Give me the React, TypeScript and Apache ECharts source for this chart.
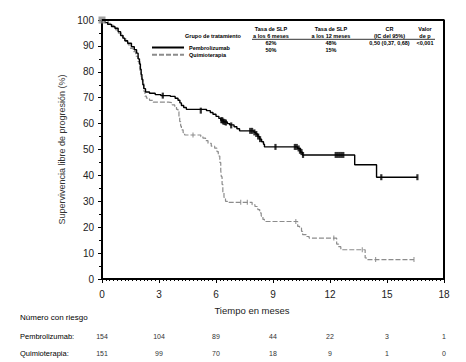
import React, { useEffect, useRef } from "react";
import * as echarts from "echarts";

// Kaplan-Meier curves: [month, % progression-free]
const pembroKM: [number, number][] = [
  [0, 100], [0.15, 99], [0.3, 98.3], [0.5, 97.5], [0.68, 96.8], [0.85, 95.5], [0.98, 94],
  [1.1, 93], [1.2, 92], [1.35, 91], [1.55, 89.7], [1.7, 88.5], [1.82, 87.2], [1.9, 85],
  [1.97, 83], [2.02, 81], [2.06, 79], [2.1, 77], [2.15, 75], [2.2, 73.5], [2.29, 72.2],
  [2.5, 71.7], [2.8, 71.2], [3.1, 70.8], [3.6, 70.5], [3.85, 69.8], [4.0, 69], [4.1, 68],
  [4.18, 67], [4.3, 66.2], [4.44, 65.5], [5.5, 65], [5.7, 64.3], [5.84, 63.6], [6.0, 62.8],
  [6.15, 62], [6.25, 61.3], [6.4, 60.6], [6.6, 60], [6.72, 59.5], [6.95, 58.8], [7.1, 58],
  [7.24, 57.2], [8.0, 56.6], [8.1, 56], [8.2, 55], [8.29, 54], [8.4, 53], [8.5, 52],
  [8.55, 51], [10.3, 50.4], [10.45, 49], [10.55, 47.9], [13.3, 44.1], [14.45, 39.3], [16.6, 39.3],
];
const chemoKM: [number, number][] = [
  [0, 100], [0.2, 99.4], [0.33, 98.7], [0.45, 98], [0.59, 97.4], [0.72, 96.2], [0.86, 94.9],
  [1.0, 94], [1.12, 93], [1.25, 91.7], [1.38, 90.4], [1.5, 89], [1.64, 87.8], [1.77, 86],
  [1.9, 83.9], [2.0, 80.5], [2.06, 78], [2.13, 76], [2.2, 72.5], [2.26, 70.6], [2.34, 69.8],
  [2.5, 69], [2.69, 68.3], [3.5, 68.1], [3.7, 67.2], [3.83, 66.5], [3.92, 65.5], [4.0, 64.6],
  [4.05, 62.5], [4.09, 60.8], [4.14, 59], [4.18, 57.6], [4.27, 56.5], [4.35, 55.6], [5.2, 55],
  [5.31, 54.4], [5.45, 53.4], [5.58, 52.4], [5.75, 51.3], [5.93, 50.5], [6.05, 49.2],
  [6.12, 47.5], [6.2, 45], [6.25, 42], [6.28, 39.5], [6.32, 36.5], [6.36, 33.5], [6.42, 31.5],
  [6.5, 30], [6.6, 29.6], [7.9, 28.7], [8.05, 28], [8.2, 26.8], [8.3, 25.5], [8.38, 24.3],
  [8.47, 23], [8.55, 22.2], [10.3, 20.3], [10.4, 19.7], [10.5, 18.4], [10.56, 17.1],
  [10.75, 16.4], [10.9, 15.8], [12.35, 13.5], [12.45, 12.5], [12.57, 11.3], [13.85, 8.1],
  [13.95, 7.5], [16.42, 7.5],
];
// Censored observations
const pembroCensor: [number, number][] = [
  [3.2, 70.8], [5.2, 65], [6.28, 61.3], [6.33, 61.3], [6.38, 60.8], [6.45, 60.6], [6.52, 60.4],
  [6.8, 59.3], [7.8, 57.2], [7.9, 57.2], [8.02, 56.6], [8.12, 56], [8.22, 55], [8.32, 54],
  [9.13, 51], [10.15, 51], [10.25, 51], [10.35, 50.4], [10.42, 49.5], [10.5, 49], [10.58, 47.9],
  [12.3, 47.9], [12.4, 47.9], [12.5, 47.9], [12.6, 47.9], [12.7, 47.9], [14.7, 39.3], [16.6, 39.3],
];
const chemoCensor: [number, number][] = [
  [4.79, 55.6], [7.3, 29.6], [7.65, 29.6], [10.2, 22.2], [12.2, 15.8], [13.7, 11.3], [14.4, 7.5],
  [16.42, 7.5],
];

const xTicks = [0, 3, 6, 9, 12, 15, 18];
const riskPembro = [154, 104, 89, 44, 22, 3, 1];
const riskChemo = [151, 99, 70, 18, 9, 1, 0];

const groupNames = ["Pembrolizumab", "Quimioterapia"];
const tableHeaderTop = ["Tasa de SLP", "Tasa de SLP", "CR", "Valor"];
const tableHeaderBottom = ["a los 6 meses", "a los 12 meses", "(IC del 95%)", "de p"];
const tableRowPembro = ["62%", "48%", "0,50 (0,37, 0,68)", "<0,001"];
const tableRowChemo = ["50%", "15%", "", ""];

const X_MAX = 18;
const Y_MAX = 100;
// frame corners (top-left, top-right, bottom-right) in data units
const frameCorners: [number, number][] = [[0, Y_MAX], [X_MAX, Y_MAX], [X_MAX, 0]];

const FONT = "'Liberation Sans', Arial, sans-serif";

export default function App() {
  const ref = useRef<HTMLDivElement>(null);
  useEffect(() => {
    if (!ref.current) return;
    const chart = echarts.init(ref.current, null, { renderer: "svg" });
    const option: any = {
      animation: false,
      backgroundColor: "#fff",
      textStyle: { fontFamily: FONT },
      grid: { left: 102, right: 22, top: 20, bottom: 83 },
      legend: {
        data: groupNames,
        orient: "vertical",
        left: 146, top: 39.5,
        itemWidth: 32, itemHeight: 6, itemGap: 1.3,
        itemStyle: { opacity: 0 },
        textStyle: { fontSize: 5.5, fontWeight: "bold", color: "#000", fontFamily: FONT, lineHeight: 6 },
        selectedMode: false,
      },
      xAxis: {
        type: "value", min: 0, max: X_MAX, interval: 3,
        name: "Tiempo en meses", nameLocation: "middle", nameGap: 26,
        nameTextStyle: { fontSize: 9.5, color: "#222", fontFamily: FONT, padding: [0, 42, 0, 0] },
        axisLine: { onZero: false, lineStyle: { color: "#000", width: 2 } },
        axisTick: { length: 4, lineStyle: { color: "#000" } },
        minorTick: { show: true, splitNumber: 15, length: 2, lineStyle: { color: "#000" } },
        axisLabel: { fontSize: 10, color: "#222", margin: 10, fontFamily: FONT },
        splitLine: { show: false },
      },
      yAxis: {
        type: "value", min: 0, max: Y_MAX, interval: 10,
        name: "Supervivencia libre de progresión (%)", nameLocation: "middle", nameGap: 29,
        nameTextStyle: { fontSize: 9, color: "#333", fontFamily: FONT },
        axisLine: { show: true, onZero: false, lineStyle: { color: "#000", width: 2 } },
        axisTick: { show: true, length: 4, lineStyle: { color: "#000" } },
        minorTick: { show: true, splitNumber: 2, length: 3, lineStyle: { color: "#000" } },
        axisLabel: { fontSize: 10, color: "#222", margin: 8, fontFamily: FONT },
        splitLine: { show: false },
      },
      series: [
        {
          type: "line", data: frameCorners, symbol: "none", clip: false, silent: true,
          lineStyle: { color: "#000", width: 2 }, z: 6,
        },
        {
          name: groupNames[1], type: "line", step: "end", data: chemoKM, symbol: "none",
          lineStyle: { color: "#8c8c8c", width: 1.2, type: [5, 2] },
          itemStyle: { color: "#8c8c8c" }, z: 2,
        },
        {
          name: groupNames[0], type: "line", step: "end", data: pembroKM, symbol: "none",
          lineStyle: { color: "#000", width: 1.4 }, itemStyle: { color: "#000" }, z: 3,
        },
        {
          type: "scatter", data: pembroCensor, symbol: "rect", symbolSize: [2.2, 6],
          itemStyle: { color: "#000" }, z: 4,
        },
        {
          type: "scatter", data: chemoCensor, symbol: "rect", symbolSize: [1.2, 5],
          itemStyle: { color: "#888" }, z: 4,
        },
        {
          type: "scatter", data: [chemoKM[0]], symbol: "rect", symbolSize: 7,
          itemStyle: { color: "#8a8a8a" }, z: 5,
        },
      ],
    };
    chart.setOption(option);

    const px = (m: number) => chart.convertToPixel({ xAxisIndex: 0 }, m) as number;
    const colX = [271, 331, 389.5, 425];
    const graphic: any[] = [];
    const txt = (text: string, x: number, y: number, opts: any = {}) =>
      graphic.push({
        type: "text", x, y, silent: true,
        style: {
          text, fill: opts.fill || "#000", fontSize: opts.fontSize || 5.5,
          fontWeight: opts.fontWeight || "bold", fontFamily: FONT,
          align: opts.align || "center", verticalAlign: "middle",
        },
      });
    txt("Grupo de tratamiento", 185, 35.5, { align: "left" });
    tableHeaderTop.forEach((t, i) => txt(t, colX[i], 28.5));
    tableHeaderBottom.forEach((t, i) => txt(t, colX[i], 35.5));
    graphic.push({ type: "line", silent: true, shape: { x1: 252, y1: 39.3, x2: 435, y2: 39.3 }, style: { stroke: "#000", lineWidth: 0.8 } });
    tableRowPembro.forEach((t, i) => t && txt(t, colX[i], 43));
    tableRowChemo.forEach((t, i) => t && txt(t, colX[i], 50.3));

    txt("Número con riesgo", 20, 317, { align: "left", fontSize: 8, fontWeight: "normal" });
    txt("Pembrolizumab:", 20, 336.5, { align: "left", fontSize: 7.5, fontWeight: "normal" });
    txt("Quimioterapia:", 20, 353, { align: "left", fontSize: 7.5, fontWeight: "normal" });
    xTicks.forEach((m, i) => {
      txt(String(riskPembro[i]), px(m), 336.5, { fontSize: 7, fontWeight: "normal", fill: "#333" });
      txt(String(riskChemo[i]), px(m), 353, { fontSize: 7, fontWeight: "normal", fill: "#333" });
    });
    chart.setOption({ graphic });

    return () => chart.dispose();
  }, []);
  return <div ref={ref} style={{ position: "fixed", left: 0, top: 0, width: 466, height: 362 }} />;
}
